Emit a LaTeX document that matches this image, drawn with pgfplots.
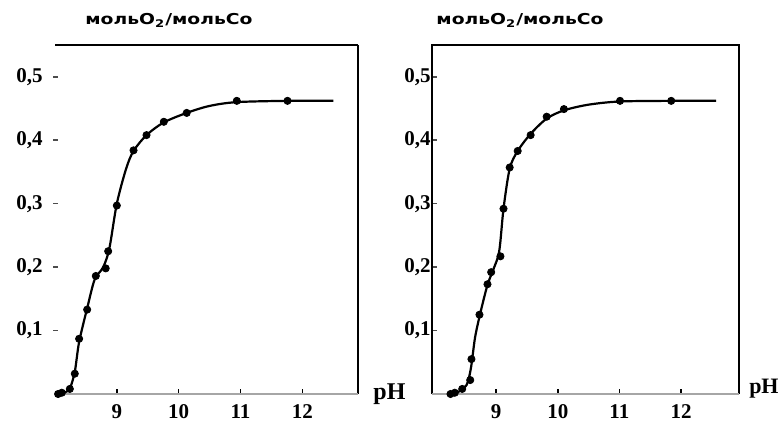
\documentclass[border=0pt]{standalone}
\usepackage{pgfplots}
\usepackage{pgfplotstable}
\pgfplotsset{compat=1.18}
\usepackage{fontspec}
\setmainfont{Liberation Serif}
\newfontfamily\titlefont[FakeStretch=1.25]{DejaVu Sans}

% left panel
\pgfplotstableread{
x y
8.05 0.000
8.11 0.002
8.24 0.008
8.32 0.032
8.39 0.087
8.52 0.133
8.66 0.186
8.82 0.198
8.86 0.225
9.00 0.297
9.27 0.384
9.48 0.408
9.76 0.429
10.13 0.443
10.94 0.462
11.76 0.462
}\leftdata
\pgfplotstableread{
x y
8.05 0.000
8.15 0.002
8.24 0.009
8.32 0.035
8.39 0.082
8.52 0.135
8.64 0.180
8.78 0.200
8.88 0.230
9.00 0.300
9.15 0.355
9.27 0.383
9.48 0.408
9.76 0.428
10.13 0.443
10.50 0.454
10.94 0.460
11.76 0.462
12.50 0.462
}\leftcurve

% right panel
\pgfplotstableread{
x y
8.26 0.000
8.33 0.002
8.45 0.008
8.58 0.022
8.60 0.055
8.73 0.125
8.86 0.173
8.92 0.192
9.07 0.217
9.12 0.292
9.22 0.357
9.35 0.383
9.56 0.408
9.82 0.437
10.10 0.449
11.01 0.462
11.84 0.462
}\rightdata
\pgfplotstableread{
x y
8.26 0.000
8.40 0.004
8.52 0.014
8.59 0.040
8.66 0.090
8.75 0.130
8.86 0.172
8.95 0.195
9.05 0.225
9.12 0.292
9.22 0.355
9.35 0.383
9.56 0.410
9.82 0.434
10.10 0.447
10.50 0.456
11.01 0.461
11.84 0.462
12.57 0.462
}\rightcurve

\pgfplotsset{
  panel/.style={
    scale only axis,
    anchor=south west,
    height=174.5pt,
    ymin=0, ymax=0.55,
    axis line style={draw=none},
    xtick={9,10,11,12},
    ytick={0.1,0.2,0.3,0.4,0.5},
    xtick pos=bottom, ytick pos=left,
    tick align=inside,
    major tick length=2.5pt,
    xtick style={black, line width=0.8pt},
    ytick style={black!70, line width=0.8pt},
    tick label style={font=\fontsize{10.5}{12}\selectfont\bfseries},
    /pgf/number format/assume math mode=true,
    /pgf/number format/.cd, use comma, fixed, precision=1,
    /pgfplots/.cd,
    xticklabel style={anchor=center, yshift=-9pt},
    clip=false,
  },
}

\begin{document}
\begin{tikzpicture}
\path[use as bounding box] (0,0) rectangle (390pt,211.5pt);

% left
\begin{axis}[panel,
  at={(27.5pt,14.5pt)}, width=151.5pt,
  xmin=8, xmax=12.9,
  yticklabel style={anchor=east, inner sep=0pt, xshift=-6pt},
  ytick style={black!70, line width=0.8pt, xshift=-1pt},
]
\draw[black, line width=0.6pt] (rel axis cs:0,1) -- (rel axis cs:1,1);
\draw[black, line width=0.9pt] (rel axis cs:1,1) -- (rel axis cs:1,0);
\draw[black!35, line width=0.9pt] (rel axis cs:0,0) -- (rel axis cs:1,0);
\addplot[black, line width=1.1pt, smooth, tension=0.5] table {\leftcurve};
\addplot[only marks, mark=*, mark size=1.8pt, black] table {\leftdata};
\end{axis}

% right
\begin{axis}[panel,
  at={(216pt,14.5pt)}, width=153.5pt,
  xmin=7.96, xmax=12.94,
  yticklabel style={anchor=east, inner sep=0pt, xshift=-0.5pt},
]
\draw[black, line width=0.9pt] (rel axis cs:0,0) -- (rel axis cs:0,1) -- (rel axis cs:1,1) -- (rel axis cs:1,0);
\draw[black!35, line width=0.9pt] (rel axis cs:0,0) -- (rel axis cs:1,0);
\addplot[black, line width=1.1pt, smooth, tension=0.5] table {\rightcurve};
\addplot[only marks, mark=*, mark size=1.8pt, black] table {\rightdata};
\end{axis}

% titles and axis names
\node[font=\titlefont\bfseries\fontsize{7.5}{8}\selectfont] at (84.5pt,201.5pt) {мольO\textsubscript{2}/мольCo};
\node[font=\titlefont\bfseries\fontsize{7.5}{8}\selectfont] at (260pt,201.5pt) {мольO\textsubscript{2}/мольCo};
\node[font=\fontsize{12}{14}\selectfont\bfseries, anchor=west, inner sep=0pt] at (186.5pt,14.5pt) {pH};
\node[font=\fontsize{11}{13}\selectfont\bfseries, anchor=east, inner sep=0pt] at (389.5pt,17pt) {pH};
\end{tikzpicture}
\end{document}
